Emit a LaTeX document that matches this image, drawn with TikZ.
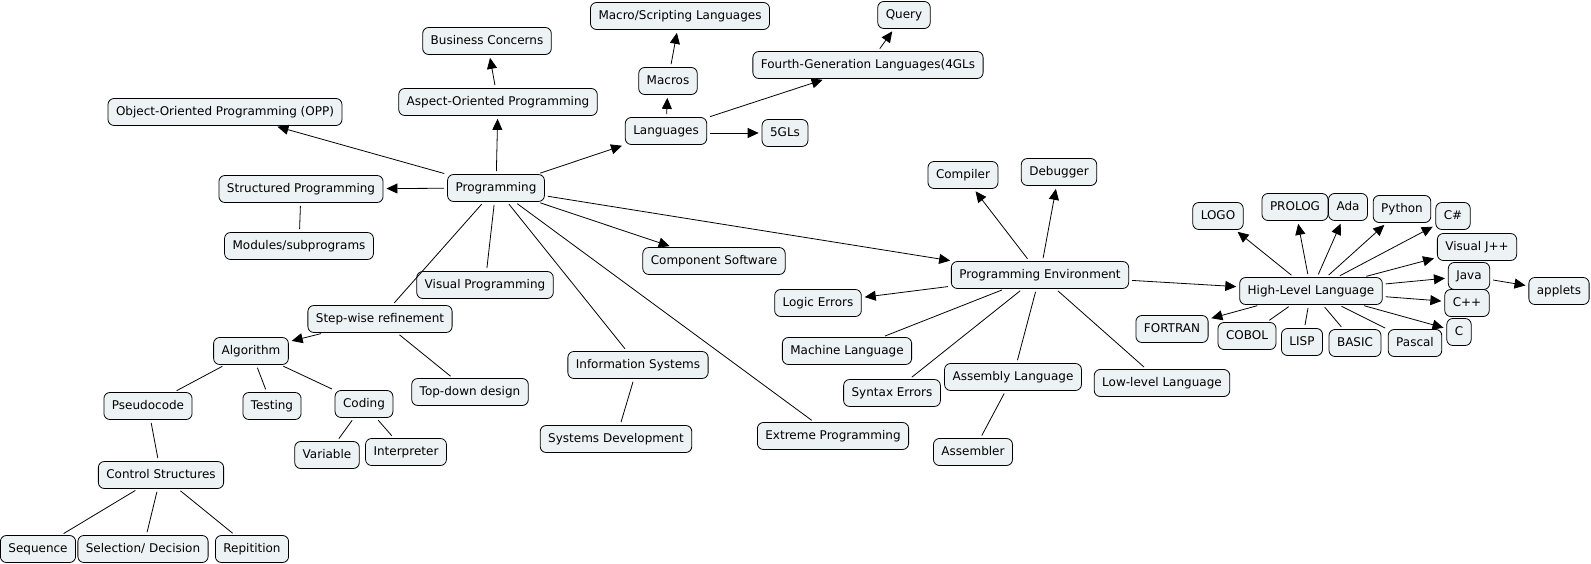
\documentclass[tikz,border=0pt]{standalone}
\usepackage{fontspec}
\setmainfont{DejaVu Sans}
\usetikzlibrary{arrows.meta}
\definecolor{boxfill}{RGB}{237,243,245}
\tikzset{
  cbox/.style={draw=black, line width=0.8pt, fill=boxfill, rounded corners=6pt,
    font=\fontsize{12}{14}\selectfont, text height=9pt, text depth=2.5pt,
    inner xsep=8pt, inner ysep=7.5pt, minimum height=27pt},
  link/.style={draw=black, line width=0.8pt, shorten <=3pt, shorten >=3pt},
  arr/.style={link, -{Triangle[length=11pt,width=10pt]}}
}
\begin{document}
\begin{tikzpicture}[x=1pt,y=-1pt]
\useasboundingbox (0,0) rectangle (1591,564);
% nodes
\node[cbox] (bus) at (487,41) {Business Concerns};
\node[cbox] (mscript) at (680,16) {Macro/Scripting Languages};
\node[cbox] (query) at (904,15) {Query};
\node[cbox] (fgl) at (868,65) {Fourth-Generation Languages(4GLs};
\node[cbox] (macros) at (668,81) {Macros};
\node[cbox] (aspect) at (498,102) {Aspect-Oriented Programming};
\node[cbox] (oop) at (225,112) {Object-Oriented Programming (OPP)};
\node[cbox] (lang) at (666,131) {Languages};
\node[cbox] (fivegl) at (785,133) {5GLs};
\node[cbox] (prog) at (496,188) {Programming};
\node[cbox] (struct) at (301,189) {Structured Programming};
\node[cbox] (modules) at (299,246) {Modules/subprograms};
\node[cbox] (compiler) at (963,175) {Compiler};
\node[cbox] (debugger) at (1059,172) {Debugger};
\node[cbox] (logo) at (1218,216) {LOGO};
\node[cbox] (prolog) at (1295,207) {PROLOG};
\node[cbox] (ada) at (1348,207) {Ada};
\node[cbox] (python) at (1402,209) {Python};
\node[cbox] (csharp) at (1453,216) {C\#};
\node[cbox] (vj) at (1477,247) {Visual J++};
\node[cbox] (comp) at (714,261) {Component Software};
\node[cbox] (env) at (1040,275) {Programming Environment};
\node[cbox] (java) at (1469,276) {Java};
\node[cbox] (applets) at (1559,291) {applets};
\node[cbox] (hll) at (1311,291) {High-Level Language};
\node[cbox] (visual) at (485,285) {Visual Programming};
\node[cbox] (logic) at (818,303) {Logic Errors};
\node[cbox] (cpp) at (1467,303) {C++};
\node[cbox] (step) at (380,319) {Step-wise refinement};
\node[cbox] (fortran) at (1172,329) {FORTRAN};
\node[cbox] (cobol) at (1247,336) {COBOL};
\node[cbox] (lisp) at (1302,342) {LISP};
\node[cbox] (basic) at (1355,343) {BASIC};
\node[cbox] (pascal) at (1415,343) {Pascal};
\node[cbox] (c) at (1459,332) {C};
\node[cbox] (algo) at (251,351) {Algorithm};
\node[cbox] (machine) at (847,351) {Machine Language};
\node[cbox] (info) at (638,365) {Information Systems};
\node[cbox] (asmlang) at (1013,377) {Assembly Language};
\node[cbox] (low) at (1162,383) {Low-level Language};
\node[cbox] (syntax) at (892,393) {Syntax Errors};
\node[cbox] (topdown) at (470,392) {Top-down design};
\node[cbox] (pseudo) at (148,406) {Pseudocode};
\node[cbox] (testing) at (272,406) {Testing};
\node[cbox] (coding) at (364,404) {Coding};
\node[cbox] (extreme) at (833,436) {Extreme Programming};
\node[cbox] (sysdev) at (616,439) {Systems Development};
\node[cbox] (variable) at (327,455) {Variable};
\node[cbox] (interp) at (406,452) {Interpreter};
\node[cbox] (assembler) at (973,452) {Assembler};
\node[cbox] (control) at (161,475) {Control Structures};
\node[cbox] (seq) at (38,549) {Sequence};
\node[cbox] (sel) at (143,549) {Selection/ Decision};
\node[cbox] (rep) at (252,549) {Repitition};
% arrows
\draw[arr] (prog) -- (oop);
\draw[arr] (prog) -- (aspect);
\draw[arr] (prog) -- (struct);
\draw[arr] (prog) -- (lang);
\draw[arr] (prog) -- (comp);
\draw[arr] (prog) -- (env);
\draw[arr] (aspect) -- (bus);
\draw[arr] (lang) -- (macros);
\draw[arr] (lang) -- (fgl);
\draw[arr] (lang.east |- fivegl.west) -- (fivegl.west);
\draw[arr] (macros) -- (mscript);
\draw[arr] (fgl) -- (query);
\draw[arr] (step) -- (algo);
\draw[arr] (env) -- (compiler);
\draw[arr] (env) -- (debugger);
\draw[arr] (env) -- (logic);
\draw[arr] (env) -- (hll);
\draw[arr] (hll) -- (logo);
\draw[arr] (hll) -- (prolog);
\draw[arr] (hll) -- (ada);
\draw[arr] (hll) -- (python);
\draw[arr] (hll) -- (csharp);
\draw[arr] (hll) -- (vj);
\draw[arr] (hll) -- (java);
\draw[arr] (hll) -- (cpp);
\draw[arr] (hll) -- (c);
\draw[arr] (hll) -- (fortran);
\draw[arr] (java) -- (applets);
% plain links
\draw[link] (prog) -- (step);
\draw[link] (prog) -- (visual);
\draw[link] (prog) -- (info);
\draw[link] (prog) -- (extreme);
\draw[link] (struct) -- (modules);
\draw[link] (step) -- (topdown);
\draw[link] (algo) -- (pseudo);
\draw[link] (algo) -- (testing);
\draw[link] (algo) -- (coding);
\draw[link] (pseudo) -- (control);
\draw[link] (control) -- (seq);
\draw[link] (control) -- (sel);
\draw[link] (control) -- (rep);
\draw[link] (coding) -- (variable);
\draw[link] (coding) -- (interp);
\draw[link] (info) -- (sysdev);
\draw[link] (env) -- (machine);
\draw[link] (env) -- (syntax);
\draw[link] (env) -- (asmlang);
\draw[link] (env) -- (low);
\draw[link] (asmlang) -- (assembler);
\draw[link] (hll) -- (cobol);
\draw[link] (hll) -- (lisp);
\draw[link] (hll) -- (basic);
\draw[link] (hll) -- (pascal);
\end{tikzpicture}
\end{document}
